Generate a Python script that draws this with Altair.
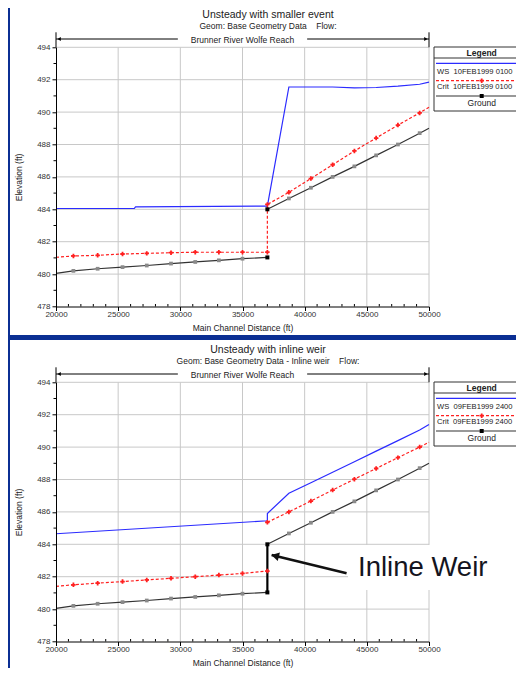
import altair as alt
import pandas as pd

BLUE = "#0b2f93"
FONT = "Liberation Sans"
NB = "\u00a0"

# ---------------- data ----------------
stations = [20000, 21400, 23350, 25350, 27300, 29250, 31200, 33100, 35000, 37000,
            37000, 38730, 40500, 42250, 44000, 45750, 47500, 49250, 50000]

ground_elev = [480.05, 480.2, 480.33, 480.43, 480.53, 480.65, 480.75, 480.85, 480.95, 481.03,
               484.0, 484.67, 485.33, 486.0, 486.65, 487.33, 488.0, 488.7, 489.0]
ground_seg = [0, 0, 0, 0, 0, 0, 0, 0, 0, 0, 1, 1, 1, 1, 1, 1, 1, 1, 1]

# panel 1: unsteady with smaller event
ws1_dist = [20000, 26300, 26400, 37000, 38730, 40500, 42250, 44000, 45750, 47500, 49250, 50000]
ws1_elev = [484.05, 484.06, 484.15, 484.2, 491.55, 491.55, 491.55, 491.5, 491.52, 491.6, 491.72, 491.85]
crit1_elev = [481.04, 481.12, 481.16, 481.24, 481.28, 481.32, 481.35, 481.35, 481.35, 481.35,
              484.3, 485.05, 485.9, 486.75, 487.6, 488.4, 489.2, 489.95, 490.3]
crit1_seg = [0] * 19

# panel 2: unsteady with inline weir
ws2_dist = [20000, 37000, 37000, 38730, 40500, 42250, 44000, 45750, 47500, 49250, 50000]
ws2_elev = [484.65, 485.45, 485.9, 487.15, 487.8, 488.45, 489.1, 489.75, 490.4, 491.05, 491.4]
crit2_elev = [481.4, 481.5, 481.6, 481.7, 481.8, 481.9, 482.0, 482.1, 482.2, 482.35,
              485.36, 486.0, 486.67, 487.35, 488.02, 488.68, 489.35, 490.0, 490.3]
crit2_seg = [0, 0, 0, 0, 0, 0, 0, 0, 0, 0, 1, 1, 1, 1, 1, 1, 1, 1, 1]

weir_dist = [37000]
weir_bottom = [481.03]
weir_top = [484.0]
arrow_dist = [43372, 37343]      # tail, tip
arrow_elev = [482.21, 483.34]

x_major = [20000, 25000, 30000, 35000, 40000, 45000, 50000]
x_minor = [21000, 22000, 23000, 24000, 26000, 27000, 28000, 29000, 31000, 32000, 33000, 34000,
           36000, 37000, 38000, 39000, 41000, 42000, 43000, 44000, 46000, 47000, 48000, 49000]
y_major = [478, 480, 482, 484, 486, 488, 490, 492, 494]
y_minor = [479, 481, 483, 485, 487, 489, 491, 493]
grid_x = [25000, 30000, 35000, 40000, 45000, 50000]
grid_y = [480, 482, 484, 486, 488, 490, 492, 494]

titles = ["Unsteady with smaller event", "Unsteady with inline weir"]
subtitles = ["Geom: Base Geometry Data" + NB * 4 + "Flow:",
             "Geom: Base Geometry Data - Inline weir" + NB * 4 + "Flow:"]
reach = "Brunner River Wolfe Reach"
legend_dates = ["10FEB1999 0100", "09FEB1999 2400"]

# ---------------- geometry ----------------
W = 373.0
PH = 259.2          # panel plot height
GAP = 335.0         # vertical offset of second panel
H = GAP + PH

ONE = pd.DataFrame({"k": [0]})


def ptext(text, x, y, size, weight="normal", align="center", color="#222222"):
    return alt.Chart(ONE).mark_text(text=text, fontSize=size, fontWeight=weight, align=align,
                                    baseline="middle", color=color, font=FONT).encode(
        x=alt.value(x), y=alt.value(y))


def prect(x1, x2, y1, y2, fill="white", stroke=None, sw=1):
    kw = dict(fill=fill)
    if stroke:
        kw.update(stroke=stroke, strokeWidth=sw)
    return alt.Chart(ONE).mark_rect(**kw).encode(
        x=alt.value(x1), x2=alt.value(x2), y=alt.value(y1), y2=alt.value(y2))


def prule(x1, x2, y1, y2, color="black", sw=1, dash=None):
    kw = dict(color=color, strokeWidth=sw)
    if dash:
        kw.update(strokeDash=dash)
    return alt.Chart(ONE).mark_rule(**kw).encode(
        x=alt.value(x1), x2=alt.value(x2), y=alt.value(y1), y2=alt.value(y2))


def panel(k, ws_dist, ws_elev, crit_elev, crit_seg, weir=False):
    dy = GAP * k
    yscale = alt.Scale(domain=[478, 494], range=[dy + PH, dy], nice=False, zero=False)
    xscale = alt.Scale(domain=[20000, 50000], nice=False, zero=False)
    xaxis = alt.Axis(orient="bottom", offset=dy + PH - H, values=x_major, format="d", grid=False,
                     tickSize=4, labelPadding=0, labelFlush=False, labelOverlap=False,
                     title="Main Channel Distance (ft)", titlePadding=5, zindex=1)
    yaxis = alt.Axis(orient="left", values=y_major, format="d", grid=False, tickSize=4,
                     labelPadding=2, labelOverlap=False, title="Elevation (ft)", titlePadding=13,
                     zindex=1)

    def X(f="dist"):
        return alt.X(f, type="quantitative", scale=xscale, axis=xaxis)

    def Y(f="elev"):
        return alt.Y(f, type="quantitative", scale=yscale, axis=yaxis)

    layers = []
    # grid lines
    gx = pd.DataFrame({"dist": grid_x, "elev": [478] * len(grid_x), "elev2": [494] * len(grid_x)})
    gy = pd.DataFrame({"dist": [20000] * len(grid_y), "dist2": [50000] * len(grid_y), "elev": grid_y})
    layers.append(alt.Chart(gx).mark_rule(color="#c8c8c8", strokeWidth=1).encode(
        x=X(), y=Y(), y2="elev2"))
    layers.append(alt.Chart(gy).mark_rule(color="#c8c8c8", strokeWidth=1).encode(
        x=X(), x2="dist2", y=Y()))
    # minor ticks
    mx = pd.DataFrame({"dist": x_minor})
    my = pd.DataFrame({"elev": y_minor})
    layers.append(alt.Chart(mx).mark_rule(color="black", strokeWidth=1).encode(
        x=X(), y=alt.value(dy + PH - 2.5), y2=alt.value(dy + PH)))
    layers.append(alt.Chart(my).mark_rule(color="black", strokeWidth=1).encode(
        y=Y(), x=alt.value(-2.5), x2=alt.value(0)))

    if weir:
        # white box behind the annotation text
        layers.append(prect(292, 460, dy + 162.7, dy + 207.7))

    # ground
    gdf = pd.DataFrame({"dist": stations, "elev": ground_elev, "seg": ground_seg,
                        "i": list(range(len(stations)))})
    layers.append(alt.Chart(gdf).mark_line(color="#333333", strokeWidth=1.2).encode(
        x=X(), y=Y(), detail="seg:N", order="i:Q"))
    if weir:
        wdf = pd.DataFrame({"dist": weir_dist, "elev": weir_bottom, "elev2": weir_top})
        layers.append(alt.Chart(wdf).mark_rule(color="black", strokeWidth=2.2).encode(
            x=X(), y=Y(), y2="elev2"))
    # crit
    cdf = pd.DataFrame({"dist": stations, "elev": crit_elev, "seg": crit_seg,
                        "i": list(range(len(stations)))})
    layers.append(alt.Chart(cdf).mark_line(color="#ff2020", strokeWidth=1.2,
                                           strokeDash=[3, 2]).encode(
        x=X(), y=Y(), detail="seg:N", order="i:Q"))
    # ws
    wsdf = pd.DataFrame({"dist": ws_dist, "elev": ws_elev, "i": list(range(len(ws_dist)))})
    layers.append(alt.Chart(wsdf).mark_line(color="#2b2bff", strokeWidth=1.2).encode(
        x=X(), y=Y(), order="i:Q"))
    # markers
    layers.append(alt.Chart(cdf).transform_filter(
        (alt.datum.dist > 20000) & (alt.datum.dist < 50000)).mark_point(
        shape="cross", filled=True, color="#ff2020", size=20, opacity=1).encode(x=X(), y=Y()))
    layers.append(alt.Chart(gdf).transform_filter(
        (alt.datum.dist > 20000) & (alt.datum.dist < 50000) & (alt.datum.dist != 37000)).mark_square(
        color="#8a8a8a", size=14, opacity=1).encode(x=X(), y=Y()))
    layers.append(alt.Chart(gdf).transform_filter(alt.datum.dist == 37000).mark_square(
        color="black", size=16, opacity=1).encode(x=X(), y=Y()))

    # reach bracket
    rb = pd.DataFrame({"dist": [20000, 40200], "dist2": [29800, 50000]})
    layers.append(alt.Chart(rb).mark_rule(color="black", strokeWidth=1).encode(
        x=X(), x2="dist2", y=alt.value(dy - 8.3)))
    re = pd.DataFrame({"dist": [20000, 50000]})
    layers.append(alt.Chart(re).mark_rule(color="black", strokeWidth=1).encode(
        x=X(), y=alt.value(dy - 15), y2=alt.value(dy)))
    la = pd.DataFrame({"dist": [20250]})
    ra = pd.DataFrame({"dist": [49750]})
    layers.append(alt.Chart(la).mark_point(shape="triangle-left", filled=True, color="black",
                                           size=16, opacity=1).encode(x=X(), y=alt.value(dy - 8.3)))
    layers.append(alt.Chart(ra).mark_point(shape="triangle-right", filled=True, color="black",
                                           size=16, opacity=1).encode(x=X(), y=alt.value(dy - 8.3)))
    layers.append(ptext(reach, W / 2, dy - 7.6, 8.5))

    # titles
    layers.append(ptext(titles[k], 212, dy - 32.3, 10.5))
    layers.append(ptext(subtitles[k], 212, dy - 21.8, 8.5))

    # legend
    lx1, lx2, lc = 378, 470, 425.7
    layers.append(prect(lx1, lx2, dy - 0.3, dy + 63.7, fill="white", stroke="#333333", sw=1))
    layers.append(prule(lx1, lx2, dy + 10.7, dy + 10.7, color="#333333"))
    layers.append(ptext("Legend", lc, dy + 5.3, 8.5, weight="bold"))
    layers.append(prule(lx1 + 2, lx2, dy + 16, dy + 16, color="#2b2bff", sw=1.2))
    layers.append(ptext("WS" + NB * 2 + legend_dates[k], lx1 + 3, dy + 24.4, 7.6, align="left"))
    layers.append(prule(lx1 + 2, lx2, dy + 33.4, dy + 33.4, color="#ff2020", sw=1.2, dash=[3, 2]))
    layers.append(alt.Chart(ONE).mark_point(shape="cross", filled=True, color="#ff2020", size=20,
                                            opacity=1).encode(x=alt.value(lc), y=alt.value(dy + 33.4)))
    layers.append(ptext("Crit" + NB * 2 + legend_dates[k], lx1 + 3, dy + 39.6, 7.6, align="left"))
    layers.append(prule(lx1 + 2, lx2, dy + 48.7, dy + 48.7, color="#333333", sw=1.2))
    layers.append(alt.Chart(ONE).mark_square(color="black", size=16, opacity=1).encode(
        x=alt.value(lc), y=alt.value(dy + 48.7)))
    layers.append(ptext("Ground", lc, dy + 55.6, 8.5))

    if weir:
        adf = pd.DataFrame({"dist": [arrow_dist[0]], "elev": [arrow_elev[0]],
                            "dist2": [arrow_dist[1]], "elev2": [arrow_elev[1]]})
        layers.append(alt.Chart(adf).mark_rule(color="#111111", strokeWidth=2.6).encode(
            x=X(), y=Y(), x2="dist2", y2="elev2"))
        hdf = pd.DataFrame({"dist": [arrow_dist[1] + 380], "elev": [arrow_elev[1] - 0.07]})
        layers.append(alt.Chart(hdf).mark_point(shape="triangle", filled=True, color="#111111",
                                                size=80, opacity=1, angle=284).encode(x=X(), y=Y()))
        layers.append(ptext("Inline Weir", 302, dy + 185.3, 27.5, align="left", color="#141420"))

    return alt.layer(*layers)


bg = alt.layer(
    prect(-46, 470, -42.3, 287.7),
    prect(-46, 470, 292.7, 630),
)

chart = alt.layer(
    bg,
    panel(0, ws1_dist, ws1_elev, crit1_elev, crit1_seg),
    panel(1, ws2_dist, ws2_elev, crit2_elev, crit2_seg, weir=True),
).resolve_scale(x="independent", y="independent").properties(
    width=W, height=H,
    autosize=alt.AutoSizeParams(type="none"),
    padding={"left": 48, "top": 39.3, "right": 87, "bottom": 26.5},
).configure(
    background=BLUE, font=FONT
).configure_view(stroke=None).configure_axis(
    domainColor="black", tickColor="black", labelColor="#333333", titleColor="#222222",
    labelFont=FONT, titleFont=FONT, labelFontSize=8, titleFontSize=8.5, titleFontWeight="normal"
)

chart.save("out.html", embed_options={"renderer": "svg", "actions": False})
